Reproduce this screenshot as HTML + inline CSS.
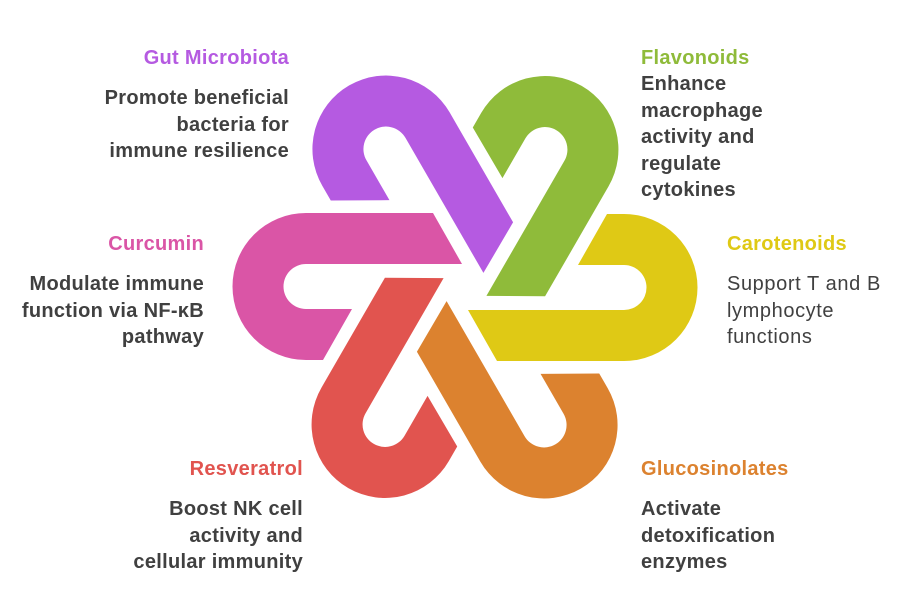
<!DOCTYPE html>
<html><head><meta charset="utf-8"><style>
body{margin:0;width:897px;height:615px;background:#fff;position:relative;overflow:hidden;font-family:"Liberation Sans",sans-serif;}
.t{position:absolute;font-weight:bold;font-size:20px;letter-spacing:0.3px;line-height:26.5px;white-space:nowrap;}
.r{text-align:right;}
.d{color:#404040;}
.n{font-weight:normal;letter-spacing:0.6px;}
</style></head><body>
<svg width="897" height="615" style="position:absolute;left:0;top:0">
<defs>
<path id="u" d="M -32 -74 L -159 -74 A 73.5 73.5 0 0 0 -159 73 L -142 73 L -113 22 L -159 22 A 22.5 22.5 0 0 1 -159 -23 L -3 -23 Z"/>
</defs>
<g transform="translate(465,287)">
<use href="#u" fill="#da55a6"/>
<use href="#u" fill="#b55ae1" transform="rotate(60)"/>
<use href="#u" fill="#8fbb3a" transform="rotate(120)"/>
<use href="#u" fill="#dfc915" transform="rotate(180)"/>
<use href="#u" fill="#dc822f" transform="rotate(240)"/>
<use href="#u" fill="#e1544f" transform="rotate(300)"/>
</g>
</svg>
<div class="t r" style="right:608px;top:45px;color:#b55ae1">Gut Microbiota</div>
<div class="t r d" style="right:608px;top:85px">Promote beneficial<br>bacteria for<br>immune resilience</div>
<div class="t r" style="right:693px;top:231px;color:#da55a6">Curcumin</div>
<div class="t r d" style="right:693px;top:271px">Modulate immune<br>function via NF-κB<br>pathway</div>
<div class="t r" style="right:594px;top:456px;color:#e1544f">Resveratrol</div>
<div class="t r d" style="right:594px;top:496px">Boost NK cell<br>activity and<br>cellular immunity</div>
<div class="t" style="left:641px;top:45px;color:#8fbb3a">Flavonoids</div>
<div class="t d" style="left:641px;top:71px">Enhance<br>macrophage<br>activity and<br>regulate<br>cytokines</div>
<div class="t" style="left:727px;top:231px;color:#dfc915">Carotenoids</div>
<div class="t d n" style="left:727px;top:271px">Support T and B<br>lymphocyte<br>functions</div>
<div class="t" style="left:641px;top:456px;color:#dc822f">Glucosinolates</div>
<div class="t d" style="left:641px;top:496px">Activate<br>detoxification<br>enzymes</div>
</body></html>
